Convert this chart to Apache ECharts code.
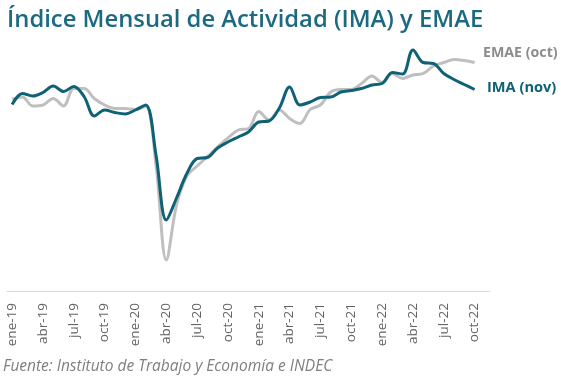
<!DOCTYPE html>
<html>
<head>
<meta charset="utf-8">
<script src="https://cdn.jsdelivr.net/npm/echarts@6/dist/echarts.min.js"></script>
<style>
html,body{margin:0;padding:0;background:#fff;}
#chart{width:561px;height:386px;}
</style>
</head>
<body>
<div id="chart"></div>
<script>
var months = ['ene','feb','mar','abr','may','jun','jul','ago','sep','oct','nov','dic'];
var categories = [];
[19,20,21,22].forEach(function(y){ months.forEach(function(m,i){ if(!(y===22 && i>10)) categories.push(m+'-'+y); }); });

var imaValues = [147.3,149.5,149.0,149.7,151.0,149.9,150.9,148.9,145.0,146.2,145.7,145.4,
  146.2,147.2,137.2,124.2,128.6,133.5,136.5,136.7,138.6,139.8,140.8,141.8,
  143.8,144.0,146.6,150.8,147.2,147.8,148.7,148.8,149.8,150.1,150.5,151.2,
  151.5,153.7,153.4,158.2,155.7,155.5,153.5,152.3,151.3,150.3,null];

var emaeValues = [148.4,148.8,147.0,147.2,148.5,147.0,150.5,150.5,148.5,147.2,146.5,146.5,
  146.3,147.0,135.2,116.2,127.2,133.0,135.0,136.9,138.8,140.6,142.2,142.5,
  145.9,144.2,146.2,144.5,143.5,146.3,147.2,149.8,150.3,150.3,151.5,153.0,
  151.7,153.5,152.5,153.2,153.5,155.0,155.7,156.3,156.1,155.7,null];

var seriesNames = ['EMAE (oct)','IMA (nov)'];
var titleText = 'Índice Mensual de Actividad (IMA) y EMAE';
var sourceText = 'Fuente: Instituto de Trabajo y Economía e INDEC';

var FONT = '"Open Sans", "Noto Sans", sans-serif';
var chart = echarts.init(document.getElementById('chart'));
chart.setOption({
  animation: false,
  backgroundColor: '#fff',
  title: {
    text: titleText, left: 2, top: 3,
    textStyle: {fontFamily: FONT, fontSize: 23.8, fontWeight: 600, color: '#1b6a80'}
  },
  grid: {left: 7, right: 71, top: 41, bottom: 95, containLabel: false},
  xAxis: {
    type: 'category', data: categories, boundaryGap: true,
    axisLine: {lineStyle: {color: '#d9d9d9', width: 1}},
    axisTick: {interval: 2, length: 5, lineStyle: {color: '#d9d9d9'}},
    axisLabel: {interval: 2, rotate: 90, margin: 12, color: '#646464', fontFamily: FONT, fontSize: 13.5}
  },
  yAxis: {
    type: 'value', min: 110, max: 160, show: false, splitLine: {show: false}
  },
  series: [
    {name: seriesNames[0], type: 'line', data: emaeValues, smooth: 0.35, symbol: 'none',
     lineStyle: {color: '#bfbfbf', width: 3}, z: 2},
    {name: seriesNames[1], type: 'line', data: imaValues, smooth: 0.35, symbol: 'none',
     lineStyle: {color: '#0f6176', width: 3}, z: 3}
  ],
  graphic: [
    {type: 'text', left: 483, top: 46, style: {text: seriesNames[0], font: 'bold 14.2px ' + FONT, fill: '#8c8c8c'}},
    {type: 'text', left: 487, top: 80, style: {text: seriesNames[1], font: 'bold 14.6px ' + FONT, fill: '#0f6176'}},
    {type: 'text', left: 3, top: 359, style: {text: sourceText, font: 'italic 15.5px ' + FONT, fill: '#7f7f7f'}}
  ]
});
</script>
</body>
</html>
